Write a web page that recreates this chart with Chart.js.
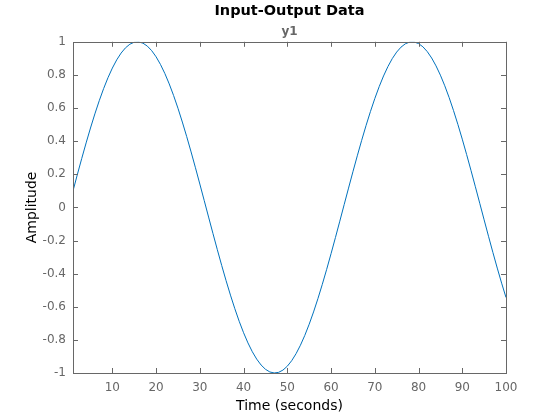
<!DOCTYPE html>
<html lang="en">
<head>
    <meta charset="UTF-8">
    <title>Input-Output Data</title>
    <script src="https://cdn.jsdelivr.net/npm/chart.js@4/dist/chart.umd.min.js"></script>
    <style>
        html, body { margin: 0; padding: 0; background: #fff; }
        #wrap { width: 560px; height: 420px; }
    </style>
</head>
<body>
<div id="wrap"><canvas id="canvas" width="560" height="420"></canvas></div>
<script>
    const time = [1, 2, 3, 4, 5, 6, 7, 8, 9, 10, 11, 12, 13, 14, 15, 16, 17, 18, 19, 20,
        21, 22, 23, 24, 25, 26, 27, 28, 29, 30, 31, 32, 33, 34, 35, 36, 37, 38, 39, 40,
        41, 42, 43, 44, 45, 46, 47, 48, 49, 50, 51, 52, 53, 54, 55, 56, 57, 58, 59, 60,
        61, 62, 63, 64, 65, 66, 67, 68, 69, 70, 71, 72, 73, 74, 75, 76, 77, 78, 79, 80,
        81, 82, 83, 84, 85, 86, 87, 88, 89, 90, 91, 92, 93, 94, 95, 96, 97, 98, 99, 100];

    const y1 = [0.0998, 0.1987, 0.2955, 0.3894, 0.4794, 0.5646, 0.6442, 0.7174, 0.7833, 0.8415,
        0.8912, 0.9320, 0.9636, 0.9854, 0.9975, 0.9996, 0.9917, 0.9738, 0.9463, 0.9093,
        0.8632, 0.8085, 0.7457, 0.6755, 0.5985, 0.5155, 0.4274, 0.3350, 0.2392, 0.1411,
        0.0416, -0.0584, -0.1577, -0.2555, -0.3508, -0.4425, -0.5298, -0.6119, -0.6878, -0.7568,
        -0.8183, -0.8716, -0.9162, -0.9516, -0.9775, -0.9937, -0.9999, -0.9962, -0.9825, -0.9589,
        -0.9258, -0.8835, -0.8323, -0.7728, -0.7055, -0.6313, -0.5507, -0.4646, -0.3739, -0.2794,
        -0.1822, -0.0831, 0.0168, 0.1165, 0.2151, 0.3115, 0.4048, 0.4941, 0.5784, 0.6570,
        0.7290, 0.7937, 0.8504, 0.8987, 0.9380, 0.9679, 0.9882, 0.9985, 0.9989, 0.9894,
        0.9699, 0.9407, 0.9022, 0.8546, 0.7985, 0.7344, 0.6630, 0.5849, 0.5010, 0.4121,
        0.3191, 0.2229, 0.1245, 0.0248, -0.0752, -0.1743, -0.2718, -0.3665, -0.4575, -0.5440];

    const xTicks = [10, 20, 30, 40, 50, 60, 70, 80, 90, 100];
    const yTicks = [-1, -0.8, -0.6, -0.4, -0.2, 0, 0.2, 0.4, 0.6, 0.8, 1];

    const axisColor = '#676767';
    const fontFamily = '"DejaVu Sans", sans-serif';

    // matlab style box with ticks pointing inwards
    const boxPlugin = {
        id: 'box',
        afterDatasetsDraw(chart) {
            const ctx = chart.ctx;
            const a = chart.chartArea;
            const xs = chart.scales.x;
            const ys = chart.scales.y;
            const len = 5;
            ctx.save();
            ctx.strokeStyle = axisColor;
            ctx.lineWidth = 1;
            ctx.beginPath();
            xTicks.forEach(v => {
                const px = Math.round(xs.getPixelForValue(v)) + 0.5;
                ctx.moveTo(px, a.bottom);
                ctx.lineTo(px, a.bottom - len);
                ctx.moveTo(px, a.top);
                ctx.lineTo(px, a.top + len);
            });
            yTicks.forEach(v => {
                const py = Math.round(ys.getPixelForValue(v)) + 0.5;
                ctx.moveTo(a.left, py);
                ctx.lineTo(a.left + len, py);
                ctx.moveTo(a.right, py);
                ctx.lineTo(a.right - len, py);
            });
            ctx.stroke();
            ctx.strokeRect(Math.round(a.left) + 0.5, Math.round(a.top) + 0.5,
                Math.round(a.right - a.left), Math.round(a.bottom - a.top));
            ctx.restore();
        }
    };

    const chart = new Chart('canvas', {
        type: 'line',
        data: {
            datasets: [{
                label: 'y1',
                data: time.map((t, i) => ({x: t, y: y1[i]})),
                borderColor: '#0072BD',
                borderWidth: 1,
                pointRadius: 0,
                fill: false,
                tension: 0
            }]
        },
        options: {
            responsive: false,
            animation: false,
            layout: {padding: {left: 0, right: 54, top: 0, bottom: 0}},
            plugins: {
                legend: {display: false},
                tooltip: {enabled: false},
                title: {
                    display: true,
                    fullSize: false,
                    text: 'Input-Output Data',
                    color: '#000',
                    font: {family: fontFamily, size: 14.5, weight: 'bold', lineHeight: 1.2},
                    padding: {top: 3, bottom: 4}
                },
                subtitle: {
                    display: true,
                    fullSize: false,
                    text: 'y1',
                    color: '#666',
                    font: {family: fontFamily, size: 12, weight: 'bold', lineHeight: 1.2},
                    padding: {top: 0, bottom: 3}
                }
            },
            scales: {
                x: {
                    type: 'linear',
                    min: 1,
                    max: 100,
                    grid: {display: false, drawTicks: false},
                    border: {display: false},
                    afterBuildTicks: s => { s.ticks = xTicks.map(v => ({value: v})); },
                    afterFit: s => { s.height = 47; },
                    ticks: {
                        color: axisColor,
                        font: {family: fontFamily, size: 12},
                        padding: 8,
                        maxRotation: 0,
                        autoSkip: false
                    },
                    title: {
                        display: true,
                        text: 'Time (seconds)',
                        color: '#000',
                        font: {family: fontFamily, size: 14, lineHeight: 1.2},
                        padding: {top: 5, bottom: 5}
                    }
                },
                y: {
                    min: -1,
                    max: 1,
                    grid: {display: false, drawTicks: false},
                    border: {display: false},
                    afterBuildTicks: s => { s.ticks = yTicks.map(v => ({value: v})); },
                    afterFit: s => { s.width = 73; },
                    ticks: {
                        color: axisColor,
                        font: {family: fontFamily, size: 12},
                        padding: 7,
                        autoSkip: false,
                        callback: v => String(Number(v.toFixed(1)))
                    },
                    title: {
                        display: true,
                        text: 'Amplitude',
                        color: '#000',
                        font: {family: fontFamily, size: 14, lineHeight: 1.2},
                        padding: {top: 24, bottom: 0}
                    }
                }
            }
        },
        plugins: [boxPlugin]
    });
</script>
</body>
</html>
